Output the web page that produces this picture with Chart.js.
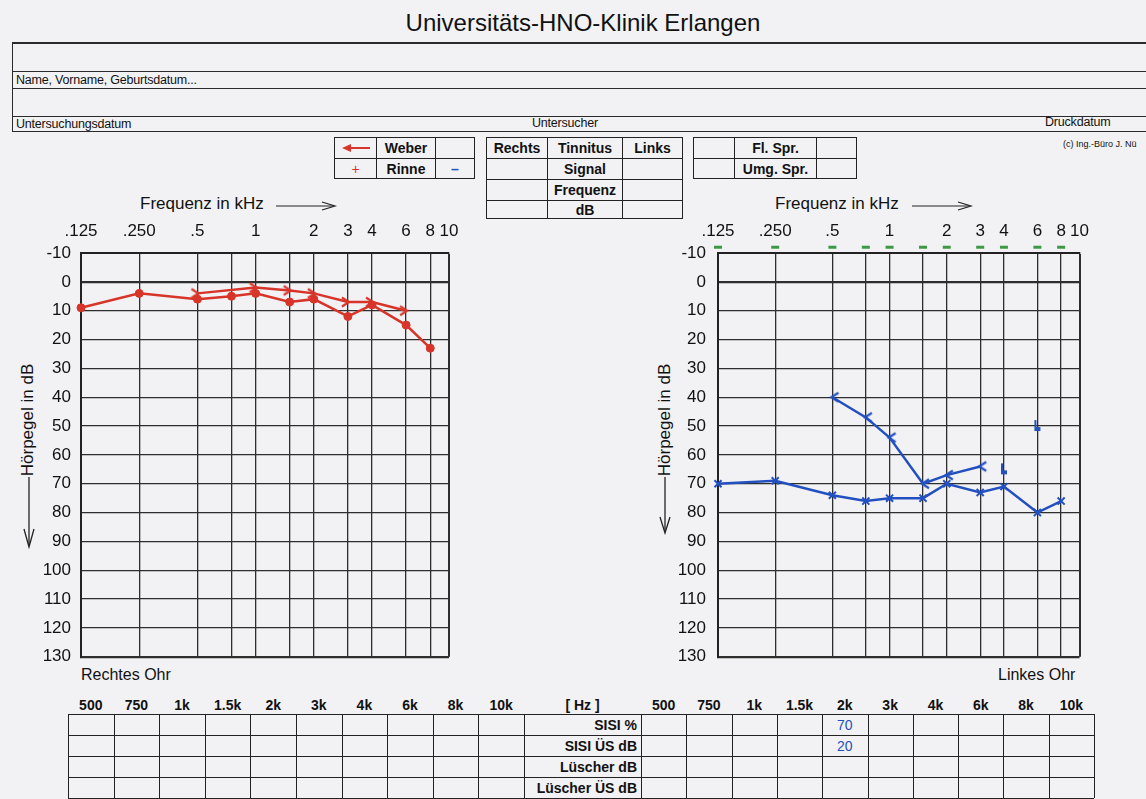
<!DOCTYPE html>
<html lang="de">
<head>
<meta charset="utf-8">
<title>Audiogramm</title>
<script src="https://cdn.jsdelivr.net/npm/chart.js@4.4.1/dist/chart.umd.min.js"></script>
<style>
  html, body { margin: 0; padding: 0; }
  body {
    width: 1146px; height: 799px; position: relative; overflow: hidden;
    background: #f2f2f4; color: #111;
    font-family: Arial, "Liberation Sans", Helvetica, sans-serif;
  }
  .abs { position: absolute; white-space: nowrap; }
  .hl { position: absolute; left: 12px; width: 1134px; height: 0; border-top: 1.5px solid #2a2a2a; }
  .small { font-size: 12.5px; letter-spacing: -0.2px; }
  table.box { position: absolute; border-collapse: collapse; }
  table.box td {
    border: 1.5px solid #222; padding: 0; text-align: center;
    font-size: 14px; font-weight: bold; line-height: 14px;
  }
  canvas.chart { position: absolute; }
  .ytitle { position: absolute; font-size: 17px; transform: rotate(-90deg); transform-origin: center center; white-space: nowrap; }
</style>
</head>
<body>

<!-- Kopfbereich -->
<div class="abs" style="left:283px;width:600px;text-align:center;top:9px;font-size:24px;">Universitäts-HNO-Klinik Erlangen</div>
<div class="hl" style="top:42px;border-top-width:2px;"></div>
<div class="hl" style="top:71px;"></div>
<div class="hl" style="top:88px;"></div>
<div class="hl" style="top:116px;"></div>
<div class="hl" style="top:131px;"></div>
<div class="abs" style="left:12px;top:42px;height:89px;border-left:1.5px solid #2a2a2a;"></div>
<div class="abs small" style="left:16px;top:73px;">Name, Vorname, Geburtsdatum...</div>
<div class="abs small" style="left:16px;top:117px;">Untersuchungsdatum</div>
<div class="abs small" style="left:532px;top:116px;">Untersucher</div>
<div class="abs small" style="left:1045px;top:115px;">Druckdatum</div>
<div class="abs" style="left:1063px;top:139px;font-size:9px;">(c) Ing.-Büro J. Nü</div>

<!-- Weber / Rinne -->
<table class="box" style="left:334px;top:137px;">
  <tr style="height:21px;">
    <td style="width:41px;">
      <svg width="30" height="10" style="display:block;margin:auto;">
        <line x1="8" y1="5" x2="29" y2="5" stroke="#d7352a" stroke-width="2"/>
        <polygon points="1,5 10,1 10,9" fill="#d7352a"/>
      </svg>
    </td>
    <td style="width:58px;">Weber</td>
    <td style="width:38px;"></td>
  </tr>
  <tr style="height:20px;">
    <td style="color:#d7352a;font-weight:normal;">+</td>
    <td>Rinne</td>
    <td style="color:#2350c0;font-weight:bold;">–</td>
  </tr>
</table>

<!-- Tinnitus -->
<table class="box" style="left:486px;top:137px;">
  <tr style="height:21px;"><td style="width:60px;">Rechts</td><td style="width:74px;">Tinnitus</td><td style="width:59px;">Links</td></tr>
  <tr style="height:21px;"><td></td><td>Signal</td><td></td></tr>
  <tr style="height:21px;"><td></td><td>Frequenz</td><td></td></tr>
  <tr style="height:18px;"><td></td><td>dB</td><td></td></tr>
</table>

<!-- Sprache -->
<table class="box" style="left:693px;top:137px;">
  <tr style="height:21px;"><td style="width:40px;"></td><td style="width:81px;">Fl. Spr.</td><td style="width:39px;"></td></tr>
  <tr style="height:20px;"><td></td><td>Umg. Spr.</td><td></td></tr>
</table>

<!-- Achsentitel -->
<div class="abs" style="left:140px;top:194px;font-size:17px;">Frequenz in kHz</div>
<svg class="abs" style="left:276px;top:200px;" width="62" height="12">
  <line x1="0" y1="6" x2="58" y2="6" stroke="#222" stroke-width="1.2"/>
  <polyline points="46,2 59,6 46,10" fill="none" stroke="#222" stroke-width="1.2"/>
</svg>
<div class="abs" style="left:775px;top:194px;font-size:17px;">Frequenz in kHz</div>
<svg class="abs" style="left:912px;top:200px;" width="62" height="12">
  <line x1="0" y1="6" x2="58" y2="6" stroke="#222" stroke-width="1.2"/>
  <polyline points="46,2 59,6 46,10" fill="none" stroke="#222" stroke-width="1.2"/>
</svg>

<div class="ytitle" style="left:-32px;top:410px;width:120px;text-align:center;">Hörpegel in dB</div>
<svg class="abs" style="left:22px;top:477px;" width="14" height="72">
  <line x1="7" y1="0" x2="7" y2="69" stroke="#222" stroke-width="1.3"/>
  <polyline points="2,52 7,70 12,52" fill="none" stroke="#222" stroke-width="1.3"/>
</svg>
<div class="ytitle" style="left:605px;top:410px;width:120px;text-align:center;">Hörpegel in dB</div>
<svg class="abs" style="left:658px;top:477px;" width="14" height="58">
  <line x1="7" y1="0" x2="7" y2="55" stroke="#222" stroke-width="1.3"/>
  <polyline points="2,40 7,56 12,40" fill="none" stroke="#222" stroke-width="1.3"/>
</svg>

<div class="abs" style="left:81px;top:666px;font-size:16px;">Rechtes Ohr</div>
<div class="abs" style="left:998px;top:666px;font-size:16px;">Linkes Ohr</div>

<canvas id="rechts" class="chart" width="480" height="487" style="left:0px;top:190px;"></canvas>
<canvas id="links" class="chart" width="480" height="489" style="left:620px;top:190px;"></canvas>

<div id="sisi"></div>

<script>
// Frequenzachse (Hz) und Beschriftung
const tickFreqs = [125, 250, 500, 750, 1000, 1500, 2000, 3000, 4000, 6000, 8000, 10000];
const tickLabels = ['.125', '.250', '.5', '', '1', '', '2', '3', '4', '6', '8', '10'];

// Rechtes Ohr (rot)
const freqs = [125, 250, 500, 750, 1000, 1500, 2000, 3000, 4000, 6000, 8000];
const rightAir = [9, 4, 6, 5, 4, 7, 6, 12, 8, 15, 23];
const rightBoneFreqs = [500, 1000, 1500, 2000, 3000, 4000, 6000];
const rightBone = [4, 2, 3, 4, 7, 7, 10];

// Linkes Ohr (blau)
const leftAir = [70, 69, 74, 76, 75, 75, 70, 73, 71, 80, 76];
const leftBoneFreqs = [500, 750, 1000, 1500, 2000, 3000];
const leftBone = [40, 47, 54, 70, 67, 64];
const leftMaskFreqs = [4000, 6000];
const leftMask = [65, 50];
const leftTopMarks = [-12, -12, -12, -12, -12, -12, -12, -12, -12, -12, -12];

// SISI / Lüscher Tabelle
const sisiCols = ['500', '750', '1k', '1.5k', '2k', '3k', '4k', '6k', '8k', '10k'];
const sisiRows = ['SISI %', 'SISI ÜS dB', 'Lüscher dB', 'Lüscher ÜS dB'];
const sisiLeftPct = ['', '', '', '', '70', '', '', '', '', ''];
const sisiLeftDb = ['', '', '', '', '20', '', '', '', '', ''];

const RED = '#d7352a';
const BLUE = '#2350c0';
const GREEN = '#3c9a46';

function pts(xs, ys) {
    return xs.map((x, i) => ({ x: x, y: ys[i] }));
}

// kleine Symbole als Canvas
function marker(w, h, draw) {
    var c = document.createElement('canvas');
    c.width = w; c.height = h;
    draw(c.getContext('2d'));
    return c;
}
var redBoneMark = marker(16, 14, function (g) {
    g.strokeStyle = RED; g.lineWidth = 2.2;
    g.beginPath(); g.moveTo(2, 2.5); g.lineTo(9, 7); g.lineTo(2, 11.5); g.stroke();
});
var blueBoneMark = marker(16, 14, function (g) {
    g.strokeStyle = BLUE; g.lineWidth = 2.2;
    g.beginPath(); g.moveTo(14, 2.5); g.lineTo(7, 7); g.lineTo(14, 11.5); g.stroke();
});
var blueMaskMark = marker(12, 14, function (g) {
    g.strokeStyle = BLUE; g.fillStyle = BLUE; g.lineWidth = 2;
    g.beginPath(); g.moveTo(4, 1); g.lineTo(4, 12); g.stroke();
    g.fillRect(4, 8, 5, 4);
});

function makeChart(id, datasets, yWidth, padRight, yPad) {
    var ctx = document.getElementById(id).getContext('2d');
    return new Chart(ctx, {
        type: 'line',
        data: { datasets: datasets },
        options: {
            responsive: false,
            animation: false,
            events: [],
            layout: { padding: { left: 0, right: padRight, top: 0, bottom: 0 } },
            plugins: { legend: { display: false }, tooltip: { enabled: false } },
            elements: { line: { tension: 0 } },
            scales: {
                x: {
                    type: 'logarithmic',
                    position: 'top',
                    min: 125,
                    max: 10000,
                    afterBuildTicks: function (axis) {
                        axis.ticks = tickFreqs.map(v => ({ value: v }));
                    },
                    afterFit: function (axis) { axis.height = 63; },
                    ticks: {
                        autoSkip: false, maxRotation: 0, padding: 11,
                        color: '#111',
                        font: { family: 'Arial, "Liberation Sans", sans-serif', size: 17 },
                        callback: function (value, index) { return tickLabels[index]; }
                    },
                    grid: {
                        drawTicks: false,
                        color: '#2e2e2e',
                        lineWidth: c => (c.tick && c.tick.value === 10000 ? 2 : 1.3)
                    },
                    border: { width: 2, color: '#222' }
                },
                y: {
                    reverse: true,
                    min: -10,
                    max: 130,
                    afterFit: function (axis) { axis.width = yWidth; },
                    ticks: {
                        stepSize: 10, padding: yPad, color: '#111',
                        font: { family: 'Arial, "Liberation Sans", sans-serif', size: 17 }
                    },
                    grid: {
                        drawTicks: false,
                        color: '#2e2e2e',
                        lineWidth: c => (c.tick && (c.tick.value === 0 || c.tick.value === 130) ? 2.2 : 1.3)
                    },
                    border: { width: 2, color: '#222' }
                }
            }
        }
    });
}

// Rechtes Ohr
makeChart('rechts', [
    {
        label: 'Luftleitung rechts',
        data: pts(freqs, rightAir),
        borderColor: RED, backgroundColor: RED, borderWidth: 2.5,
        pointStyle: 'circle', pointRadius: 4, pointBorderWidth: 1,
        clip: false
    },
    {
        label: 'Knochenleitung rechts',
        data: pts(rightBoneFreqs, rightBone),
        borderColor: RED, backgroundColor: RED, borderWidth: 2.5,
        pointStyle: redBoneMark
    }
], 81, 31, 10);

// Linkes Ohr
makeChart('links', [
    {
        label: 'Luftleitung links',
        data: pts(freqs, leftAir),
        borderColor: BLUE, backgroundColor: BLUE, borderWidth: 2.5,
        pointStyle: 'crossRot', pointRadius: 5, pointBorderWidth: 2,
        clip: false
    },
    {
        label: 'Knochenleitung links',
        data: pts(leftBoneFreqs, leftBone),
        borderColor: BLUE, backgroundColor: BLUE, borderWidth: 2.5,
        pointStyle: blueBoneMark
    },
    {
        label: 'Vertäubung links',
        data: pts(leftMaskFreqs, leftMask),
        showLine: false,
        borderColor: BLUE, backgroundColor: BLUE,
        pointStyle: blueMaskMark
    },
    {
        label: 'Markierung',
        data: pts(freqs, leftTopMarks),
        showLine: false, clip: false,
        borderColor: GREEN, backgroundColor: GREEN,
        pointStyle: 'line', pointRadius: 4, pointHoverRadius: 6, pointBorderWidth: 3
    }
], 98, 17, 12);

// SISI-Tabelle unten
(function () {
    var host = document.getElementById('sisi');
    var rowTop = 714, rowH = 21;
    var leftX = 68, leftW = 45.6, midW = 117, rightW = 45.3;
    var rightX = leftX + 10 * leftW + midW;
    var html = '';
    var colStyle = 'position:absolute;font-size:14px;font-weight:bold;text-align:center;';
    sisiCols.forEach(function (lab, i) {
        html += '<div style="' + colStyle + 'left:' + (leftX + i * leftW) + 'px;width:' + leftW + 'px;top:' + (rowTop - 17) + 'px;">' + lab + '</div>';
        html += '<div style="' + colStyle + 'left:' + (rightX + i * rightW) + 'px;width:' + rightW + 'px;top:' + (rowTop - 17) + 'px;">' + lab + '</div>';
    });
    html += '<div style="' + colStyle + 'left:' + (leftX + 10 * leftW) + 'px;width:' + midW + 'px;top:' + (rowTop - 17) + 'px;">[ Hz ]</div>';

    // Gitter
    var total = rightX + 10 * rightW - leftX;
    for (var r = 0; r <= sisiRows.length; r++) {
        html += '<div style="position:absolute;left:' + leftX + 'px;width:' + total + 'px;top:' + (rowTop + r * rowH) + 'px;border-top:1.4px solid #222;"></div>';
    }
    var xs = [];
    for (var i = 0; i <= 10; i++) xs.push(leftX + i * leftW);
    for (var j = 0; j <= 10; j++) xs.push(rightX + j * rightW);
    xs.forEach(function (x) {
        html += '<div style="position:absolute;left:' + x + 'px;top:' + rowTop + 'px;height:' + (sisiRows.length * rowH) + 'px;border-left:1.4px solid #222;"></div>';
    });

    sisiRows.forEach(function (lab, r) {
        html += '<div style="' + colStyle + 'left:' + (leftX + 10 * leftW) + 'px;width:' + (midW - 4) + 'px;text-align:right;top:' + (rowTop + r * rowH + 3) + 'px;">' + lab + '</div>';
    });
    var valueRows = [sisiLeftPct, sisiLeftDb];
    valueRows.forEach(function (vals, r) {
        vals.forEach(function (v, i) {
            if (!v) return;
            html += '<div style="position:absolute;font-size:14px;color:' + BLUE + ';text-align:center;left:' + (rightX + i * rightW) + 'px;width:' + rightW + 'px;top:' + (rowTop + r * rowH + 3) + 'px;">' + v + '</div>';
        });
    });
    host.innerHTML = html;
})();
</script>
</body>
</html>
